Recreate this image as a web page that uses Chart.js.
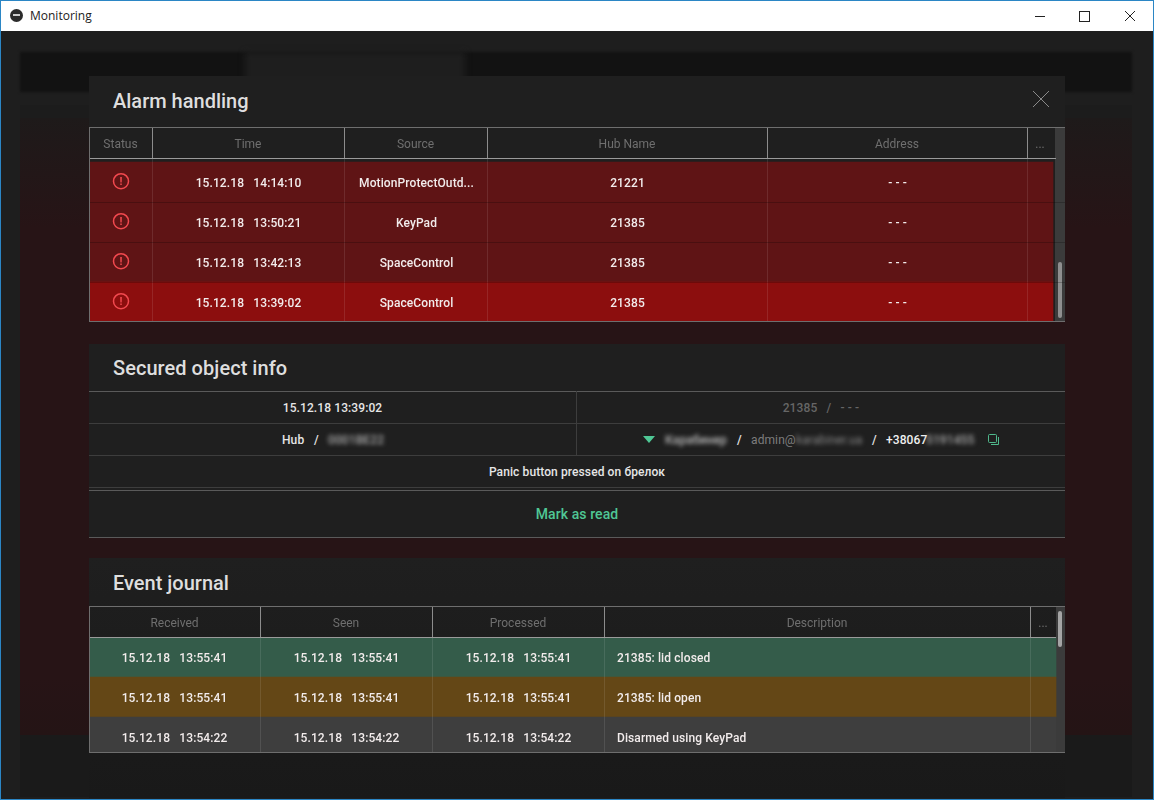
<!DOCTYPE html>
<html>
<head>
<meta charset="utf-8">
<title>Monitoring</title>
<script src="https://cdn.jsdelivr.net/npm/chart.js@4/dist/chart.umd.min.js"></script>
<style>
html, body { margin: 0; padding: 0; background: #1e1e1e; overflow: hidden; }
body { width: 1154px; height: 800px; position: relative; font-family: Roboto, sans-serif; }
div, span, canvas, svg { box-sizing: border-box; }
.abs { position: absolute; }
.panel { position: absolute; left: 89px; width: 976px; background: #1f1f1f; }
.heading { position: absolute; left: 113px; font: 500 20px/24px Roboto; color: #dedede; white-space: nowrap; }
.line { position: absolute; left: 89px; width: 976px; height: 1px; background: #4f4f4f; }
.cell { position: absolute; font: 500 12px/16px Roboto; color: #e6e6e6; white-space: pre; text-align: center; letter-spacing: 0.1px; }
.blur { filter: blur(2.2px); }
canvas.table { position: absolute; left: 89px; }
</style>
</head>
<body>
<!-- window frame and the blurred page behind the dialog -->
<div class="abs" style="left:0;top:0;width:1154px;height:800px;background:#1e1e1e"></div>
<div class="abs" style="left:20px;top:52px;width:1112px;height:40px;background:#121212;filter:blur(1.5px)"></div>
<div class="abs" style="left:245px;top:52px;width:220px;height:40px;background:#1e1e1e;filter:blur(3px)"></div>
<div class="abs" style="left:20px;top:105px;width:1112px;height:30px;background:#1c1c1c"></div>
<div class="abs" style="left:20px;top:118px;width:1112px;height:617px;background:linear-gradient(#1e1a1a,#271416 110px,#271416 560px,#241415)"></div>
<div class="abs" style="left:20px;top:735px;width:1112px;height:62px;background:#1a1a1a"></div>

<div class="panel" style="top:76px;height:246px"></div>
<div class="panel" style="top:344px;height:194px"></div>
<div class="panel" style="top:558px;height:240px;background:linear-gradient(#1f1f1f,#191919)"></div>

<div class="abs" style="left:0;top:0;width:1154px;height:31px;background:#fff;border:solid #2b86c5;border-width:1px 1px 0 1px"></div>
<div class="abs" style="left:10px;top:9px;width:13px;height:13px;border-radius:50%;background:#2b2b2b"></div>
<div class="abs" style="left:13px;top:14px;width:7px;height:2px;background:#ccc"></div>
<div class="abs" style="left:30px;top:8px;font:12px/16px 'Open Sans';color:#222">Monitoring</div>
<svg class="abs" style="left:1030px;top:8px" width="112" height="16" fill="none" stroke="#222" stroke-width="1">
  <path d="M5 8.5H15"/><rect x="49.5" y="3.5" width="10" height="10"/><path d="M95 3L105 13M105 3L95 13"/>
</svg>
<div class="abs" style="left:0;top:0;width:1px;height:800px;background:#2b86c5"></div>
<div class="abs" style="left:1153px;top:0;width:1px;height:800px;background:#2b86c5"></div>
<div class="abs" style="left:0;top:799px;width:1154px;height:1px;background:#2b86c5"></div>

<div class="heading" style="top:89px">Alarm handling</div>
<svg class="abs" style="left:1032px;top:90px" width="18" height="18" fill="none" stroke="#8a8a8a" stroke-width="1"><path d="M1 1L17 17M17 1L1 17"/></svg>

<!-- alarm table -->
<div class="abs" style="left:1055px;top:127px;width:10px;height:195px;background:#3b3b3b"></div>
<div class="abs" style="left:1058px;top:262px;width:4px;height:56px;border-radius:2px;background:#8f8f8f"></div>
<canvas id="alarmTable" class="table" style="top:127px"></canvas>
<div class="line" style="top:127px;background:#6e6e6e"></div>
<div class="line" style="top:158px;width:967px;background:#9a9a9a"></div>
<div class="line" style="top:321px;background:#6e6e6e"></div>
<div class="abs" style="left:89px;top:127px;width:1px;height:195px;background:#6e6e6e"></div>

<!-- secured object info -->
<div class="heading" style="top:356px;letter-spacing:0.05px">Secured object info</div>
<div class="line" style="top:391px;background:#5a5a5a"></div>
<div class="line" style="top:423px;background:#3d3d3d"></div>
<div class="line" style="top:455px;background:#3d3d3d"></div>
<div class="line" style="top:487px;background:#3d3d3d"></div>
<div class="line" style="top:490px;background:#5a5a5a"></div>
<div class="line" style="top:537px;background:#5a5a5a"></div>
<div class="abs" style="left:576px;top:391px;width:1px;height:64px;background:#3d3d3d"></div>

<div class="cell" style="left:89px;top:400px;width:487px">15.12.18 13:39:02</div>
<div class="cell" style="left:577px;top:400px;width:488px;color:#666">21385   /   - - -</div>
<div class="cell" style="left:282px;top:432px">Hub</div>
<div class="cell" style="left:314px;top:432px">/</div>
<div class="cell blur" style="left:328px;top:432px;color:#aaa">0001BE22</div>
<svg class="abs" style="left:643px;top:436px" width="12" height="8"><path d="M0 0H12L6 7Z" fill="#4fc795"/></svg>
<div class="cell blur" style="left:665px;top:432px;color:#bbb">Карабинер</div>
<div class="cell" style="left:737px;top:432px">/</div>
<div class="cell" style="left:751px;top:432px;color:#7d7d7d;font-weight:400">admin@</div>
<div class="cell blur" style="left:796px;top:432px;color:#888;font-weight:400">karabiner.ua</div>
<div class="cell" style="left:872px;top:432px">/</div>
<div class="cell" style="left:886px;top:432px;color:#f0f0f0">+38067</div>
<div class="cell blur" style="left:926px;top:432px;color:#aaa">5191455</div>
<svg class="abs" style="left:987px;top:433px" width="13" height="13" fill="none" stroke="#4fb98c" stroke-width="1"><rect x="1.5" y="1.5" width="8" height="8" rx="1"/><path d="M11.5 4V11.5H4"/></svg>
<div class="cell" style="left:89px;top:464px;width:976px">Panic button pressed on брелок</div>
<div class="cell" style="left:89px;top:505px;width:976px;font:500 14px/18px Roboto;color:#4fc795">Mark as read</div>

<!-- event journal -->
<div class="heading" style="top:571px">Event journal</div>
<div class="abs" style="left:1056px;top:606px;width:9px;height:147px;background:#3b3b3b"></div>
<div class="abs" style="left:1058px;top:611px;width:4px;height:36px;border-radius:2px;background:#a5a5a5"></div>
<canvas id="journalTable" class="table" style="top:606px"></canvas>
<div class="line" style="top:606px;background:#6e6e6e"></div>
<div class="line" style="top:637px;width:967px;background:#9a9a9a"></div>
<div class="line" style="top:752px;background:#6e6e6e"></div>
<div class="abs" style="left:89px;top:606px;width:1px;height:147px;background:#6e6e6e"></div>

<script>
// alarm table contents
const alarmHeaders = ['Status', 'Time', 'Source', 'Hub Name', 'Address', '...'];
const alarmTimes = ['15.12.18   14:14:10', '15.12.18   13:50:21', '15.12.18   13:42:13', '15.12.18   13:39:02'];
const alarmSources = ['MotionProtectOutd...', 'KeyPad', 'SpaceControl', 'SpaceControl'];
const alarmHubs = ['21221', '21385', '21385', '21385'];
const alarmAddresses = ['- - -', '- - -', '- - -', '- - -'];
const alarmRowColors = ['#5f1415', '#5f1415', '#5f1415', '#8c0e0e'];

// event journal contents
const journalHeaders = ['Received', 'Seen', 'Processed', 'Description', '...'];
const journalReceived = ['15.12.18   13:55:41', '15.12.18   13:55:41', '15.12.18   13:54:22'];
const journalSeen = ['15.12.18   13:55:41', '15.12.18   13:55:41', '15.12.18   13:54:22'];
const journalProcessed = ['15.12.18   13:55:41', '15.12.18   13:55:41', '15.12.18   13:54:22'];
const journalDescriptions = ['21385: lid closed', '21385: lid open', 'Disarmed using KeyPad'];
const journalRowColors = ['#345c4a', '#644716', '#3e3e3e'];

// draws the text of each cell at the place given by the chart's scales
const cellTextPlugin = {
    id: 'cellText',
    afterDatasetsDraw(chart, args, opts) {
        const ctx = chart.ctx;
        const x = chart.scales.x;
        const y = chart.scales.y;
        ctx.save();
        ctx.beginPath();
        ctx.rect(chart.chartArea.left, chart.chartArea.top, chart.chartArea.width, chart.chartArea.height);
        ctx.clip();
        ctx.textBaseline = 'middle';
        ctx.fillStyle = '#f2ecec';
        ctx.font = '500 12px Roboto';
        ctx.letterSpacing = '0.1px';
        opts.columns.forEach(col => {
            ctx.textAlign = col.align || 'center';
            col.texts.forEach((text, i) => {
                ctx.fillText(text, x.getPixelForValue(col.at), y.getPixelForValue(i) + 1.5);
            });
        });
        if (opts.statusAt !== undefined) {
            ctx.textAlign = 'center';
            ctx.fillStyle = '#f2494f';
            ctx.font = 'bold 11px Roboto';
            opts.rows.forEach((r, i) => {
                ctx.fillText('!', x.getPixelForValue(opts.statusAt), y.getPixelForValue(i) + 0.5);
            });
        }
        ctx.restore();
    }
};

function makeTable(id, t) {
    const canvas = document.getElementById(id);
    canvas.style.width = t.width + 'px';
    canvas.style.height = t.height + 'px';
    const centers = t.edges.slice(0, -1).map((e, i) => (e + t.edges[i + 1]) / 2);
    const datasets = [{
        type: 'bar',
        data: t.rowColors.map((c, i) => ({ x: [0, t.bodyEnd], y: i })),
        backgroundColor: t.rowColors,
        categoryPercentage: 1,
        barPercentage: 1,
        grouped: false,
        order: 2
    }];
    if (t.statusAt !== undefined) {
        datasets.push({
            type: 'scatter',
            indexAxis: 'x',
            data: t.rowColors.map((c, i) => ({ x: t.statusAt, y: i - 0.02 })),
            pointStyle: 'circle',
            pointRadius: 7.5,
            pointBorderWidth: 1.5,
            pointBorderColor: '#f2494f',
            pointBackgroundColor: 'rgba(0,0,0,0)',
            order: 1
        });
    }
    return new Chart(canvas, {
        data: { datasets: datasets },
        plugins: [cellTextPlugin],
        options: {
            indexAxis: 'y',
            responsive: false,
            animation: false,
            events: [],
            layout: { padding: 0, autoPadding: false },
            plugins: {
                legend: { display: false },
                tooltip: { enabled: false },
                cellText: { columns: t.columns, statusAt: t.statusAt, rows: t.rowColors }
            },
            scales: {
                x: {
                    type: 'linear',
                    position: 'top',
                    weight: 1,
                    offset: false,
                    min: 0,
                    max: t.width,
                    grid: { display: false, drawTicks: false, offset: false },
                    border: { display: false },
                    ticks: {
                        autoSkip: false,
                        maxRotation: 0,
                        padding: 6,
                        color: '#6f6f6f',
                        font: { family: 'Roboto', size: 12 },
                        callback: (v, i) => t.headers[i]
                    },
                    afterBuildTicks: s => { s.ticks = centers.map(v => ({ value: v })); },
                    afterFit: s => { s.height = t.headerHeight; }
                },
                // second axis only carries the column separators
                edges: {
                    type: 'linear',
                    axis: 'x',
                    position: 'top',
                    weight: -1,
                    offset: false,
                    min: 0,
                    max: t.width,
                    border: { display: false },
                    grid: {
                        z: 1,
                        offset: false,
                        color: 'rgba(255,255,255,0.1)',
                        tickColor: '#8c8c8c',
                        tickLength: t.headerHeight,
                        lineWidth: 1
                    },
                    ticks: { display: false },
                    afterBuildTicks: s => { s.ticks = t.edges.slice(1, -1).map(v => ({ value: v })); },
                    afterFit: s => { s.height = 0; }
                },
                y: {
                    type: 'linear',
                    reverse: true,
                    offset: false,
                    min: t.yMin,
                    max: t.yMax,
                    border: { display: false },
                    grid: { z: 1, color: t.rowLine, drawTicks: false, offset: false },
                    ticks: { display: false },
                    afterBuildTicks: s => { s.ticks = t.rowColors.slice(1).map((c, i) => ({ value: i + 0.5 })); },
                    afterFit: s => { s.width = 0; }
                }
            }
        }
    });
}

makeTable('alarmTable', {
    width: 976, height: 195, headerHeight: 31,
    edges: [0, 63, 255, 398, 678, 938, 964],
    bodyEnd: 964,
    headers: alarmHeaders,
    rowColors: alarmRowColors,
    rowLine: 'rgba(0,0,0,0.22)',
    yMin: -0.6, yMax: 3.5,
    statusAt: 32,
    columns: [
        { at: 159.5, texts: alarmTimes },
        { at: 327.5, texts: alarmSources },
        { at: 538.5, texts: alarmHubs },
        { at: 808.5, texts: alarmAddresses }
    ]
});

makeTable('journalTable', {
    width: 976, height: 147, headerHeight: 31,
    edges: [0, 171, 343, 515, 941, 967],
    bodyEnd: 967,
    headers: journalHeaders,
    rowColors: journalRowColors,
    rowLine: 'rgba(0,0,0,0)',
    yMin: -0.5, yMax: 2.4,
    columns: [
        { at: 85.5, texts: journalReceived },
        { at: 257.5, texts: journalSeen },
        { at: 429.5, texts: journalProcessed },
        { at: 528, align: 'left', texts: journalDescriptions }
    ]
});
</script>
</body>
</html>
